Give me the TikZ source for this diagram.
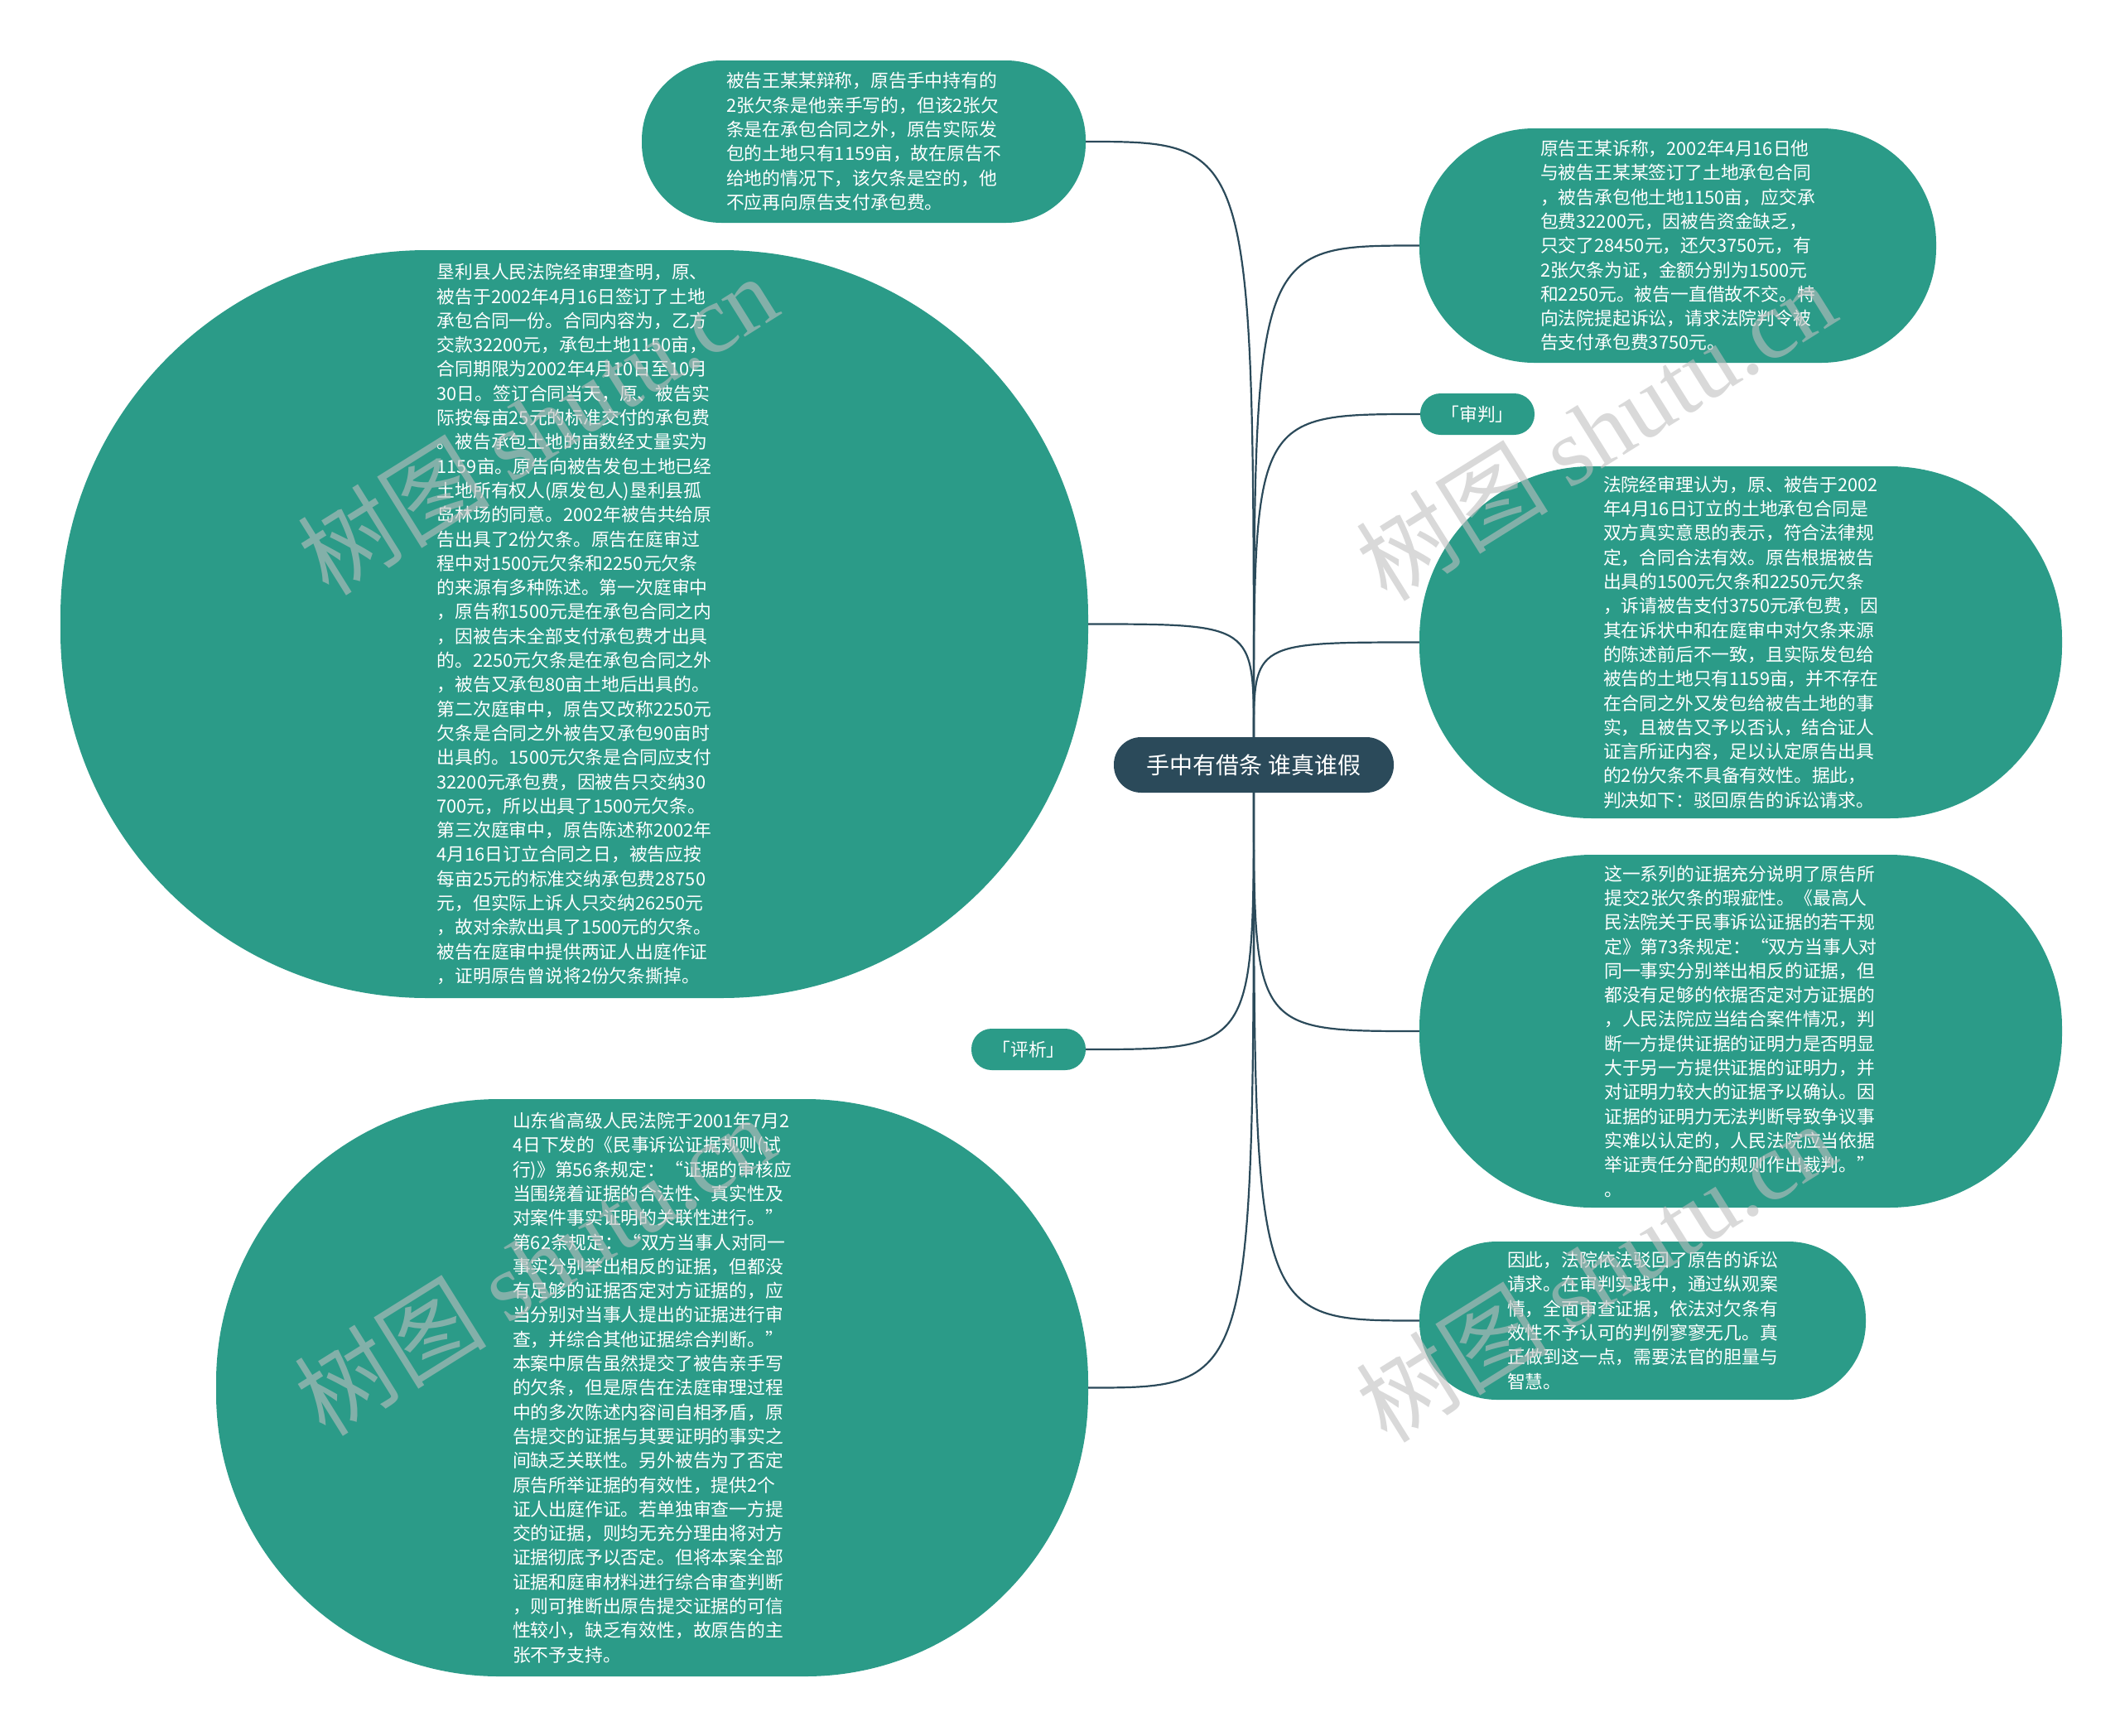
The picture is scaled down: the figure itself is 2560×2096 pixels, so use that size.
\documentclass[tikz,border=0pt]{standalone}
\usepackage{fontspec}
\newfontfamily\cjk{Noto Sans CJK SC}
\newfontfamily\wmserif{Liberation Serif}
\definecolor{leafteal}{HTML}{2B9B88}
\definecolor{rootslate}{HTML}{2B4A5A}
\tikzset{
  leaf/.style 2 args={fill=leafteal, text=white, align=left, inner sep=0pt,
    minimum width=#1, minimum height=#2, rounded corners=0.49*#2,
    font=\cjk\fontsize{21.8pt}{29.3pt}\selectfont},
  tag/.style={fill=leafteal, text=white, inner sep=0pt, minimum width=138pt,
    minimum height=50pt, rounded corners=24.5pt, font=\cjk\fontsize{21.8pt}{26pt}\selectfont},
  root/.style={fill=rootslate, text=white, inner sep=0pt, minimum width=338pt,
    minimum height=67pt, rounded corners=33pt, font=\cjk\fontsize{28pt}{32pt}\selectfont},
  branch/.style={draw=rootslate, line width=2.2pt},
  stamp/.style={text=black!25, text opacity=0.6, rotate=32, font=\cjk\fontsize{116pt}{120pt}\selectfont}
}
\begin{document}
\begin{tikzpicture}[x=1pt, y=-1pt]
\useasboundingbox (0,0) rectangle (2560,2096);
% topic and the two tags
\node[root] (topic) at (1514,923.5) {手中有借条 谁真谁假};
\node[tag] (trial) at (1784,500) {「审判」};
\node[tag] (review) at (1242,1267) {「评析」};
% leaves above the topic
\node[leaf={536pt}{196pt}] (defense) at (1043,171) {被告王某某辩称，原告手中持有的\\2张欠条是他亲手写的，但该2张欠\\条是在承包合同之外，原告实际发\\包的土地只有1159亩，故在原告不\\给地的情况下，该欠条是空的，他\\不应再向原告支付承包费。};
\node[leaf={624pt}{283pt}] (claim) at (2026,296.5) {原告王某诉称，2002年4月16日他\\与被告王某某签订了土地承包合同\\，被告承包他土地1150亩，应交承\\包费32200元，因被告资金缺乏，\\只交了28450元，还欠3750元，有\\2张欠条为证，金额分别为1500元\\和2250元。被告一直借故不交。特\\向法院提起诉讼，请求法院判令被\\告支付承包费3750元。};
\node[leaf={776pt}{425pt}] (ruling) at (2102,775.5) {法院经审理认为，原、被告于2002\\年4月16日订立的土地承包合同是\\双方真实意思的表示，符合法律规\\定，合同合法有效。原告根据被告\\出具的1500元欠条和2250元欠条\\，诉请被告支付3750元承包费，因\\其在诉状中和在庭审中对欠条来源\\的陈述前后不一致，且实际发包给\\被告的土地只有1159亩，并不存在\\在合同之外又发包给被告土地的事\\实，且被告又予以否认，结合证人\\证言所证内容，足以认定原告出具\\的2份欠条不具备有效性。据此，\\判决如下：驳回原告的诉讼请求。};
\node[leaf={1241pt}{903pt}] (facts) at (693.5,753.5) {垦利县人民法院经审理查明，原、\\被告于2002年4月16日签订了土地\\承包合同一份。合同内容为，乙方\\交款32200元，承包土地1150亩，\\合同期限为2002年4月10日至10月\\30日。签订合同当天，原、被告实\\际按每亩25元的标准交付的承包费\\。被告承包土地的亩数经丈量实为\\1159亩。原告向被告发包土地已经\\土地所有权人(原发包人)垦利县孤\\岛林场的同意。2002年被告共给原\\告出具了2份欠条。原告在庭审过\\程中对1500元欠条和2250元欠条\\的来源有多种陈述。第一次庭审中\\，原告称1500元是在承包合同之内\\，因被告未全部支付承包费才出具\\的。2250元欠条是在承包合同之外\\，被告又承包80亩土地后出具的。\\第二次庭审中，原告又改称2250元\\欠条是合同之外被告又承包90亩时\\出具的。1500元欠条是合同应支付\\32200元承包费，因被告只交纳30\\700元，所以出具了1500元欠条。\\第三次庭审中，原告陈述称2002年\\4月16日订立合同之日，被告应按\\每亩25元的标准交纳承包费28750\\元，但实际上诉人只交纳26250元\\，故对余款出具了1500元的欠条。\\被告在庭审中提供两证人出庭作证\\，证明原告曾说将2份欠条撕掉。};
% leaves below the topic
\node[leaf={776pt}{426pt}] (evidence) at (2102,1245) {这一系列的证据充分说明了原告所\\提交2张欠条的瑕疵性。《最高人\\民法院关于民事诉讼证据的若干规\\定》第73条规定：“双方当事人对\\同一事实分别举出相反的证据，但\\都没有足够的依据否定对方证据的\\，人民法院应当结合案件情况，判\\断一方提供证据的证明力是否明显\\大于另一方提供证据的证明力，并\\对证明力较大的证据予以确认。因\\证据的证明力无法判断导致争议事\\实难以认定的，人民法院应当依据\\举证责任分配的规则作出裁判。”\\。};
\node[leaf={539pt}{191pt}] (closing) at (1983.5,1594.5) {因此，法院依法驳回了原告的诉讼\\请求。在审判实践中，通过纵观案\\情，全面审查证据，依法对欠条有\\效性不予认可的判例寥寥无几。真\\正做到这一点，需要法官的胆量与\\智慧。};
\node[leaf={1053pt}{697pt}] (rules) at (787.5,1675.5) {山东省高级人民法院于2001年7月2\\4日下发的《民事诉讼证据规则(试\\行)》第56条规定：“证据的审核应\\当围绕着证据的合法性、真实性及\\对案件事实证明的关联性进行。”\\第62条规定：“双方当事人对同一\\事实分别举出相反的证据，但都没\\有足够的证据否定对方证据的，应\\当分别对当事人提出的证据进行审\\查，并综合其他证据综合判断。”\\本案中原告虽然提交了被告亲手写\\的欠条，但是原告在法庭审理过程\\中的多次陈述内容间自相矛盾，原\\告提交的证据与其要证明的事实之\\间缺乏关联性。另外被告为了否定\\原告所举证据的有效性，提供2个\\证人出庭作证。若单独审查一方提\\交的证据，则均无充分理由将对方\\证据彻底予以否定。但将本案全部\\证据和庭审材料进行综合审查判断\\，则可推断出原告提交证据的可信\\性较小，缺乏有效性，故原告的主\\张不予支持。};
% branches
\foreach \leafname/\side in {defense/east, claim/west, trial/west, ruling/west, facts/east}
  \draw[branch] (topic.north) .. controls (topic.north |- \leafname.\side) .. (\leafname.\side);
\foreach \leafname/\side in {review/east, rules/east, evidence/west, closing/west}
  \draw[branch] (topic.south) .. controls (topic.south |- \leafname.\side) .. (\leafname.\side);
% watermarks
\node[stamp] (wm1) at (649,512) {树图 {\wmserif shutu.cn}};
\node[stamp] (wm2) at (1927,519) {树图 {\wmserif shutu.cn}};
\node[stamp] (wm3) at (645,1527) {树图 {\wmserif shutu.cn}};
\node[stamp] (wm4) at (1927,1535) {树图 {\wmserif shutu.cn}};
\end{tikzpicture}
\end{document}
